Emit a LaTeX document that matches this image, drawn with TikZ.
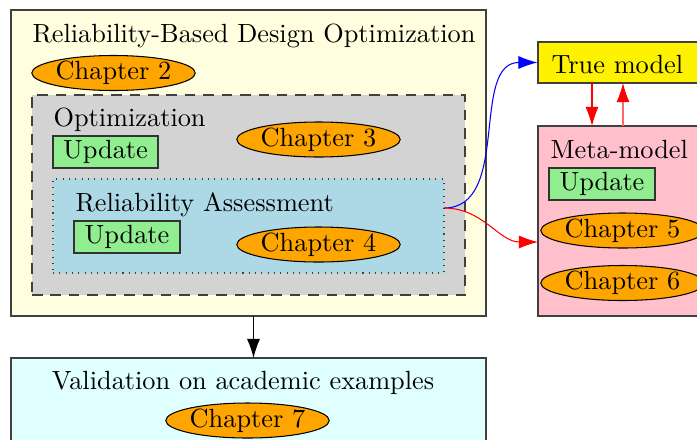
\documentclass[tikz,border=0pt]{standalone}
\usetikzlibrary{shapes.geometric,arrows.meta,fit,calc}

\definecolor{boxyellow}{RGB}{255,255,224}
\definecolor{boxgray}{RGB}{211,211,211}
\definecolor{boxblue}{RGB}{173,216,230}
\definecolor{boxgreen}{RGB}{144,238,144}
\definecolor{boxpink}{RGB}{255,192,203}
\definecolor{boxcyan}{RGB}{224,255,255}
\definecolor{chaporange}{RGB}{255,165,0}
\definecolor{edgegray}{RGB}{64,64,64}

\newdimen\pxu
\pxu=0.38pt

\tikzset{
  area/.style={draw=edgegray, inner sep=0pt, rectangle},
  title/.style={anchor=base west, inner sep=0pt},
  updatebox/.style={draw=black!80, fill=boxgreen, rectangle, inner sep=0pt},
  chapter/.style={ellipse, draw=black, fill=chaporange, inner sep=0pt,
    minimum width=161*\pxu, minimum height=35*\pxu},
  flow/.style={-{Latex[length=7.3pt,width=5pt]}},
}

\begin{document}
\begin{tikzpicture}[x=0.38pt, y=-0.38pt]
\useasboundingbox (0,0) rectangle (697,439);
\clip (0,0) rectangle (697,439);

% Reliability-Based Design Optimization frame
\node[area, fill=boxyellow, fit={(11,10) (486,316)}] (rbdo) {};
\node[title] (rbdotitle) at (32,42) {Reliability-Based Design Optimization};
\node[chapter] (ch2) at (113.5,73) {Chapter 2};

% Optimization layer
\node[area, fill=boxgray, dash pattern=on 4pt off 3pt, fit={(32,95) (465,295)}] (opt) {};
\node[title] (opttitle) at (53,126) {Optimization};
\node[updatebox, fit={(53,136) (158,168)}] (up1) {};
\node (up1txt) at (up1.center) {Update};
\node[chapter] (ch3) at (318.5,139.5) {Chapter 3};

% Reliability assessment layer
\node[area, fill=boxblue, dotted, fit={(53,179) (444,273)}] (ra) {};
\node[title] (ratitle) at (75,211) {Reliability Assessment};
\node[updatebox, fit={(74,221) (180,253)}] (up2) {};
\node (up2txt) at (up2.center) {Update};
\node[chapter] (ch4) at (318.5,244.5) {Chapter 4};

% True model
\node[area, fill=yellow, fit={(538,42) (712,83)}] (true) {};
\node[title] (truetitle) at (551,73) {True model};

% Meta-model
\node[area, fill=boxpink, fit={(538,126) (720,316)}] (meta) {};
\node[title] (metatitle) at (550,158) {Meta-model};
\node[updatebox, fit={(549,168) (655,200)}] (up3) {};
\node (up3txt) at (up3.center) {Update};
\node[chapter] (ch5) at (622.5,230.5) {Chapter 5};
\node[chapter] (ch6) at (622.5,283) {Chapter 6};

% Validation
\node[area, fill=boxcyan, fit={(11,358) (486,470)}] (valid) {};
\node[anchor=base, inner sep=0pt] (validtitle) at (243,389) {Validation on academic examples};
\node[chapter] (ch7) at (247.5,420.5) {Chapter 7};

% Connectors
\coordinate (raout) at (444,208);
\coordinate (metain) at (538,242);
\draw[flow, blue] (raout) to[out=0, in=180] (true.west);
\draw[flow, red] (raout) to[out=0, in=180] (metain);

\coordinate (tdown) at (592,83);
\coordinate (mdown) at (592,126);
\coordinate (mup) at (623,126);
\coordinate (tup) at (623,83);
\draw[flow, red] (tdown) -- (mdown);
\draw[-{Latex[length=7.3pt,width=5pt,fill=red,color=red]}, red!60] (mup) -- (tup);

\coordinate (rbdoout) at (253.5,316);
\coordinate (validin) at (253.5,358);
\draw[flow, black] (rbdoout) -- (validin);
\end{tikzpicture}
\end{document}
